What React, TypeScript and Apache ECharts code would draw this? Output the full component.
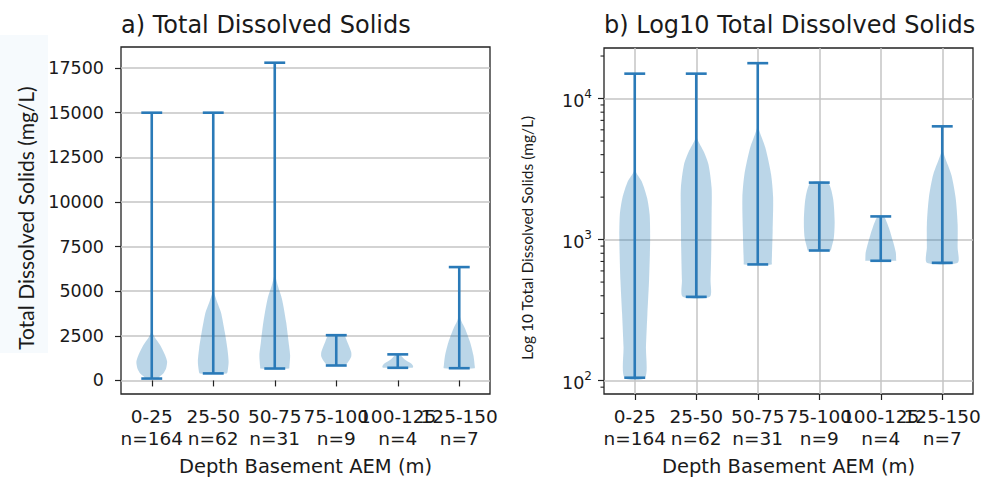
import React, { useEffect, useRef } from 'react';
import * as echarts from 'echarts';

// ---------------- data ----------------
const categories = ['0-25', '25-50', '50-75', '75-100', '100-125', '125-150'];
const counts = [164, 62, 31, 9, 4, 7];
const tdsMin = [105, 393, 667, 837, 708, 685];
const tdsMax = [15000, 15000, 17800, 2535, 1460, 6350];

const linTicks = [0, 2500, 5000, 7500, 10000, 12500, 15000, 17500];
const logTicks = [100, 1000, 10000];
const logMinorTicks = [90, 200, 300, 400, 500, 600, 700, 800, 900, 2000, 3000, 4000, 5000, 6000, 7000, 8000, 9000, 20000];

// linear panel: violin outline, value (mg/L) and relative half-width
const linVals0 = [105, 206, 390, 668, 1041, 1409, 1966, 2400, 2712, 3200];
const linWid0 = [0.42, 0.5, 0.75, 0.93, 1.0, 0.87, 0.55, 0.2, 0.04, 0];
const linVals1 = [393, 540, 1041, 1782, 2712, 3823, 4400, 4937, 5500];
const linWid1 = [0.88, 0.94, 1.0, 0.92, 0.75, 0.5, 0.25, 0.05, 0];
const linVals2 = [667, 763, 1409, 2155, 3268, 4566, 5300, 5865, 6500];
const linWid2 = [0.93, 0.95, 1.0, 0.9, 0.74, 0.47, 0.2, 0.04, 0];
const linVals3 = [837, 1000, 1320, 1598, 2155, 2535];
const linWid3 = [0.55, 0.75, 0.97, 0.97, 0.72, 0.5];
const linVals4 = [708, 797, 947, 1186, 1460];
const linWid4 = [0.95, 1.0, 0.87, 0.43, 0.1];
const linVals5 = [685, 852, 1409, 2155, 2896, 3300, 3638, 4200];
const linWid5 = [1.0, 1.0, 0.92, 0.7, 0.38, 0.15, 0.03, 0];

// log panel: violin outline, value (mg/L) and relative half-width
const logVals0 = [105, 174, 295, 513, 977, 1500, 1980, 2590, 3050, 3550];
const logWid0 = [0.67, 0.73, 0.82, 0.93, 1.0, 0.97, 0.8, 0.45, 0.05, 0];
const logVals1 = [393, 513, 871, 1510, 2320, 3390, 4170, 5220, 6030];
const logWid1 = [0.88, 0.93, 0.98, 1.0, 1.0, 0.8, 0.5, 0.05, 0];
const logVals2 = [667, 692, 1150, 1980, 2880, 4450, 6150, 7080];
const logWid2 = [0.9, 0.91, 0.97, 1.0, 0.87, 0.5, 0.05, 0];
const logVals3 = [837, 851, 1030, 1360, 1980, 2535];
const logWid3 = [0.75, 0.77, 0.95, 1.0, 0.89, 0.55];
const logVals4 = [708, 724, 809, 977, 1220, 1460];
const logWid4 = [1.0, 1.0, 0.98, 0.79, 0.52, 0.2];
const logVals5 = [685, 879, 1280, 1980, 2880, 4210, 5010];
const logWid5 = [1.0, 1.0, 1.0, 0.87, 0.59, 0.05, 0];

const linVals = [linVals0, linVals1, linVals2, linVals3, linVals4, linVals5];
const linWids = [linWid0, linWid1, linWid2, linWid3, linWid4, linWid5];
const logVals = [logVals0, logVals1, logVals2, logVals3, logVals4, logVals5];
const logWids = [logWid0, logWid1, logWid2, logWid3, logWid4, logWid5];

// ---------------- styles ----------------
const FONT = 'DejaVu Sans';
const TXT = '#1a1a1a';
const LINE = '#2a7ab8';
const FILL = 'rgba(31,119,180,0.3)';
const GRIDC = '#c4c4c4';

function violinSeries(axisIdx: number, vals: number[][], wids: number[][]) {
  return {
    type: 'custom',
    xAxisIndex: axisIdx,
    yAxisIndex: axisIdx,
    z: 5,
    clip: true,
    data: categories.map((c, i) => [i, tdsMin[i], tdsMax[i]]),
    encode: { x: 0, y: [1, 2] },
    renderItem: (params: any, api: any) => {
      const i = api.value(0);
      const band = api.size([1, 0], [i, 1000])[0];
      const half = band * 0.25;
      const cap = band * 0.17;
      const left: number[][] = [];
      const right: number[][] = [];
      vals[i].forEach((v, k) => {
        const p = api.coord([i, v]);
        left.push([p[0] - wids[i][k] * half, p[1]]);
        right.push([p[0] + wids[i][k] * half, p[1]]);
      });
      const poly = left.concat(right.reverse());
      const pMin = api.coord([i, tdsMin[i]]);
      const pMax = api.coord([i, tdsMax[i]]);
      const cx = pMin[0];
      const ls = { stroke: LINE, lineWidth: 2.6 };
      return {
        type: 'group',
        children: [
          { type: 'polygon', shape: { points: poly, smooth: 0.25 }, style: { fill: FILL } },
          { type: 'line', shape: { x1: cx, y1: pMin[1], x2: cx, y2: pMax[1] }, style: ls },
          { type: 'line', shape: { x1: cx - cap, y1: pMin[1], x2: cx + cap, y2: pMin[1] }, style: ls },
          { type: 'line', shape: { x1: cx - cap, y1: pMax[1], x2: cx + cap, y2: pMax[1] }, style: ls },
        ],
      };
    },
  };
}

function xAxisCfg(gridIndex: number) {
  return {
    type: 'category',
    gridIndex,
    data: categories,
    boundaryGap: true,
    axisLine: { show: false },
    axisTick: { show: true, alignWithLabel: true, length: 6, lineStyle: { color: '#222', width: 1.2 } },
    splitLine: { show: false },
    axisLabel: {
      interval: 0,
      margin: 11,
      fontFamily: FONT,
      fontSize: 18.5,
      lineHeight: 22,
      color: TXT,
      formatter: (v: string, idx: number) => v + '\nn=' + counts[idx],
    },
    name: 'Depth Basement AEM (m)',
    nameLocation: 'middle',
    nameGap: 62,
    nameTextStyle: { fontFamily: FONT, fontSize: 19.5, color: TXT },
  };
}

export default function App() {
  const ref = useRef<HTMLDivElement>(null);
  useEffect(() => {
    if (!ref.current) return;
    const chart = echarts.init(ref.current, null, { renderer: 'svg' });
    const option: any = {
      animation: false,
      backgroundColor: '#ffffff',
      title: [
        { text: 'a) Total Dissolved Solids', left: 121, top: 13, padding: 0, textStyle: { fontFamily: FONT, fontSize: 24, fontWeight: 'normal', color: TXT } },
        { text: 'b) Log10 Total Dissolved Solids', left: 604, top: 13, padding: 0, textStyle: { fontFamily: FONT, fontSize: 24, fontWeight: 'normal', color: TXT } },
      ],
      grid: [
        { left: 121, right: 497, top: 47, bottom: 86, show: true, borderColor: '#222', borderWidth: 1.3, backgroundColor: 'transparent' },
        { left: 604, right: 14, top: 48, bottom: 85, show: true, borderColor: '#222', borderWidth: 1.3, backgroundColor: 'transparent' },
      ],
      xAxis: [xAxisCfg(0), xAxisCfg(1)],
      yAxis: [
        {
          type: 'value',
          gridIndex: 0,
          min: -760,
          max: 18680,
          axisLine: { show: false },
          axisTick: { show: true, length: 6, customValues: linTicks, lineStyle: { color: '#222', width: 1.2 } },
          axisLabel: { customValues: linTicks, margin: 17, fontFamily: FONT, fontSize: 17.5, color: TXT, formatter: (v: number) => String(v) },
          splitLine: { show: true, lineStyle: { color: GRIDC, width: 1.5 } },
        },
        {
          type: 'log',
          gridIndex: 1,
          position: 'left',
          min: 80.5,
          max: 22800,
          axisLine: { show: false },
          axisTick: { show: true, length: 6, customValues: logTicks, lineStyle: { color: '#222', width: 1.2 } },
          axisLabel: {
            customValues: logTicks,
            margin: 12,
            color: TXT,
            formatter: (v: number) => '{b|10}{s|' + Math.round(Math.log10(v)) + '}',
            rich: {
              b: { fontFamily: FONT, fontSize: 17.5, color: TXT, lineHeight: 22, verticalAlign: 'bottom' },
              s: { fontFamily: FONT, fontSize: 12, color: TXT, lineHeight: 22, verticalAlign: 'top', padding: [0, 0, 8, 0] },
            },
          },
          splitLine: { show: true, lineStyle: { color: GRIDC, width: 1.5 } },
        },
      ],
      graphic: [
        { type: 'rect', z: 50, shape: { x: 0, y: 35, width: 48, height: 318 }, style: { fill: '#f6fafd' } },
        {
          type: 'text', z: 51, x: 25, y: 218, rotation: Math.PI / 2,
          style: { text: 'Total Dissolved Solids (mg/L)', fontFamily: 'Lato', fontSize: 21, fill: TXT, textAlign: 'center', textVerticalAlign: 'middle' },
        },
        {
          type: 'text', z: 51, x: 527, y: 238, rotation: Math.PI / 2,
          style: { text: 'Log 10 Total Dissolved Solids (mg/L)', fontFamily: 'Lato', fontSize: 15.5, fill: TXT, textAlign: 'center', textVerticalAlign: 'middle' },
        },
      ],
      series: [
        {
          type: 'line',
          xAxisIndex: 1,
          yAxisIndex: 1,
          data: [],
          z: 1,
          silent: true,
          markLine: {
            silent: true,
            symbol: ['none', 'none'],
            label: { show: false },
            lineStyle: { color: GRIDC, width: 1.5, type: 'solid' },
            data: categories.map((c) => ({ xAxis: c })),
          },
        },
        violinSeries(0, linVals, linWids),
        violinSeries(1, logVals, logWids),
        {
          // minor ticks of the log axis
          type: 'custom',
          xAxisIndex: 1,
          yAxisIndex: 1,
          clip: false,
          silent: true,
          z: 6,
          data: logMinorTicks.map((v) => [0, v]),
          encode: { x: 0, y: 1 },
          renderItem: (params: any, api: any) => {
            const y = api.coord([0, api.value(1)])[1];
            const x0 = params.coordSys.x;
            return { type: 'line', shape: { x1: x0 - 3.5, y1: y, x2: x0, y2: y }, style: { stroke: '#222', lineWidth: 1.1 } };
          },
        },
      ],
    };
    chart.setOption(option);
    return () => chart.dispose();
  }, []);
  return <div ref={ref} style={{ position: 'fixed', left: 0, top: 0, width: 987, height: 481 }} />;
}
